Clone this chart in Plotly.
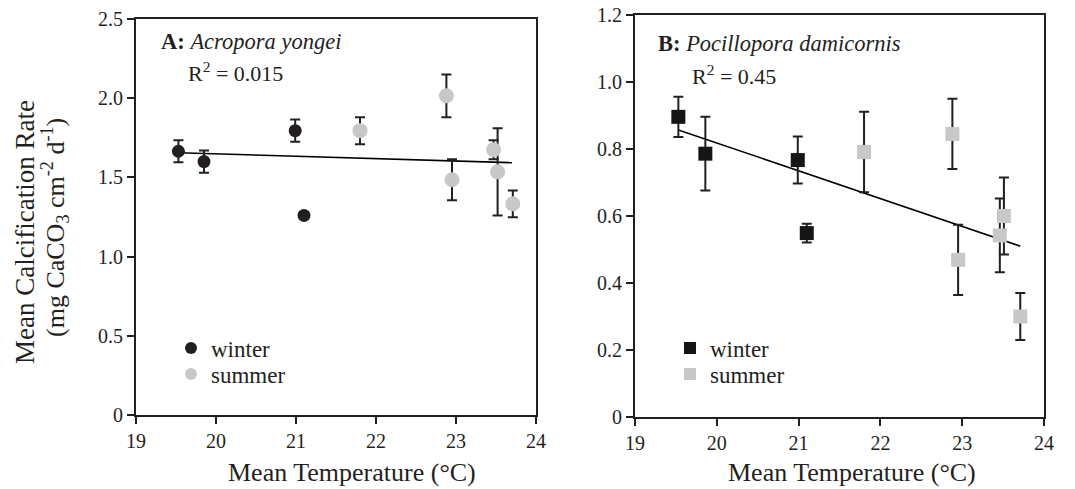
import plotly.graph_objects as go

# ---------------- data ----------------
# Panel A: Acropora yongei
a_winter_temp = [19.53, 19.85, 20.99, 21.10]
a_winter_rate = [1.665, 1.600, 1.795, 1.260]
a_winter_err = [0.07, 0.07, 0.07, 0.02]

a_summer_temp = [21.80, 22.88, 22.95, 23.47, 23.52, 23.71]
a_summer_rate = [1.795, 2.015, 1.485, 1.675, 1.535, 1.333]
a_summer_err = [0.085, 0.135, 0.13, 0.06, 0.275, 0.085]

a_fit_temp = [19.53, 23.70]
a_fit_rate = [1.656, 1.593]

# Panel B: Pocillopora damicornis
b_winter_temp = [19.53, 19.86, 20.99, 21.10]
b_winter_rate = [0.896, 0.786, 0.767, 0.549]
b_winter_err = [0.06, 0.11, 0.07, 0.028]

b_summer_temp = [21.80, 22.88, 22.95, 23.46, 23.51, 23.71]
b_summer_rate = [0.791, 0.845, 0.469, 0.542, 0.600, 0.300]
b_summer_err = [0.12, 0.105, 0.105, 0.11, 0.115, 0.07]

b_fit_temp = [19.53, 23.71]
b_fit_rate = [0.857, 0.510]

x_ticks = [19, 20, 21, 22, 23, 24]
a_yticks = [0, 0.5, 1.0, 1.5, 2.0, 2.5]
a_yticklabels = ["0", "0.5", "1.0", "1.5", "2.0", "2.5"]
b_yticks = [0, 0.2, 0.4, 0.6, 0.8, 1.0, 1.2]
b_yticklabels = ["0", "0.2", "0.4", "0.6", "0.8", "1.0", "1.2"]

# ---------------- style ----------------
W, H = 1075, 489
FONT = "Liberation Serif"
INK = "#231f20"
WINTER = "#231f20"
SUMMER = "#c8c8c6"


def px_x(p):
    return p / W


def px_y(p):
    return 1 - p / H


err_style = dict(type="data", color=INK, thickness=2, width=5)

fig = go.Figure()

# Panel A
fig.add_trace(go.Scatter(
    x=a_fit_temp, y=a_fit_rate, mode="lines", line=dict(color="black", width=1.6),
    showlegend=False, xaxis="x", yaxis="y", hoverinfo="skip"))
fig.add_trace(go.Scatter(
    x=a_winter_temp, y=a_winter_rate, mode="markers", name="winter",
    marker=dict(symbol="circle", size=13, color=WINTER),
    error_y=dict(array=a_winter_err, **err_style),
    xaxis="x", yaxis="y", legend="legend"))
fig.add_trace(go.Scatter(
    x=a_summer_temp, y=a_summer_rate, mode="markers", name="summer",
    marker=dict(symbol="circle", size=15, color=SUMMER),
    error_y=dict(array=a_summer_err, **err_style),
    xaxis="x", yaxis="y", legend="legend3"))

# Panel B
fig.add_trace(go.Scatter(
    x=b_fit_temp, y=b_fit_rate, mode="lines", line=dict(color="black", width=1.6),
    showlegend=False, xaxis="x2", yaxis="y2", hoverinfo="skip"))
fig.add_trace(go.Scatter(
    x=b_winter_temp, y=b_winter_rate, mode="markers", name="winter",
    marker=dict(symbol="square", size=14, color="#151515"),
    error_y=dict(array=b_winter_err, **err_style),
    xaxis="x2", yaxis="y2", legend="legend2"))
fig.add_trace(go.Scatter(
    x=b_summer_temp, y=b_summer_rate, mode="markers", name="summer",
    marker=dict(symbol="square", size=14, color=SUMMER),
    error_y=dict(array=b_summer_err, **err_style),
    xaxis="x2", yaxis="y2", legend="legend4"))

axis_common = dict(
    showline=True, linecolor=INK, linewidth=2, mirror=True,
    ticks="outside", ticklen=7, tickwidth=1.5, tickcolor=INK,
    showgrid=False, zeroline=False, automargin=False,
    tickfont=dict(family=FONT, size=20, color=INK),
)

legend_common = dict(
    font=dict(family=FONT, size=23, color=INK),
    bgcolor="rgba(0,0,0,0)", borderwidth=0,
    itemsizing="constant", xanchor="left", yanchor="middle",
    itemwidth=30,
)

fig.update_layout(
    width=W, height=H,
    margin=dict(l=0, r=0, t=0, b=0, autoexpand=False),
    paper_bgcolor="white", plot_bgcolor="white",
    font=dict(family=FONT, color=INK),
    xaxis=dict(domain=[px_x(136), px_x(536)], range=[19, 24], tickvals=x_ticks,
               anchor="y", **axis_common),
    yaxis=dict(domain=[px_y(415), px_y(19)], range=[0, 2.5], tickvals=a_yticks,
               ticktext=a_yticklabels, anchor="x", **axis_common),
    xaxis2=dict(domain=[px_x(635), px_x(1044)], range=[19, 24], tickvals=x_ticks,
                anchor="y2", **axis_common),
    yaxis2=dict(domain=[px_y(417), px_y(15)], range=[0, 1.2], tickvals=b_yticks,
                ticktext=b_yticklabels, anchor="x2", **axis_common),
    legend=dict(x=px_x(171), y=px_y(348), **legend_common),
    legend3=dict(x=px_x(171), y=px_y(374), **legend_common),
    legend2=dict(x=px_x(670), y=px_y(348), **legend_common),
    legend4=dict(x=px_x(670), y=px_y(374), **legend_common),
)

annotations = [
    dict(text="<b>A:</b> <i>Acropora yongei</i>", x=px_x(159), y=px_y(42),
         xanchor="left", yanchor="middle", font=dict(size=22.5)),
    dict(text="R<sup>2</sup> = 0.015", x=px_x(186), y=px_y(72),
         xanchor="left", yanchor="middle", font=dict(size=22)),
    dict(text="<b>B:</b> <i>Pocillopora damicornis</i>", x=px_x(656), y=px_y(43),
         xanchor="left", yanchor="middle", font=dict(size=22.5)),
    dict(text="R<sup>2</sup> = 0.45", x=px_x(690), y=px_y(75),
         xanchor="left", yanchor="middle", font=dict(size=22)),
    dict(text="Mean Temperature (°C)", x=px_x(352), y=px_y(472),
         xanchor="center", yanchor="middle", font=dict(size=26)),
    dict(text="Mean Temperature (°C)", x=px_x(852), y=px_y(472),
         xanchor="center", yanchor="middle", font=dict(size=26)),
    dict(text="Mean Calcification Rate", x=px_x(25), y=px_y(232), textangle=-90,
         xanchor="center", yanchor="middle", font=dict(size=27)),
    dict(text="(mg CaCO<sub>3</sub> cm<sup>-2</sup> d<sup>-1</sup>)", x=px_x(55), y=px_y(228),
         textangle=-90, xanchor="center", yanchor="middle", font=dict(size=26)),
]
for a in annotations:
    a.update(xref="paper", yref="paper", showarrow=False)
    a["font"].update(family=FONT, color=INK)
fig.update_layout(annotations=annotations)

fig.write_html(
    "out.html",
    config={"displayModeBar": False},
    post_script="document.body.style.margin='0';document.body.style.overflow='hidden';",
)
